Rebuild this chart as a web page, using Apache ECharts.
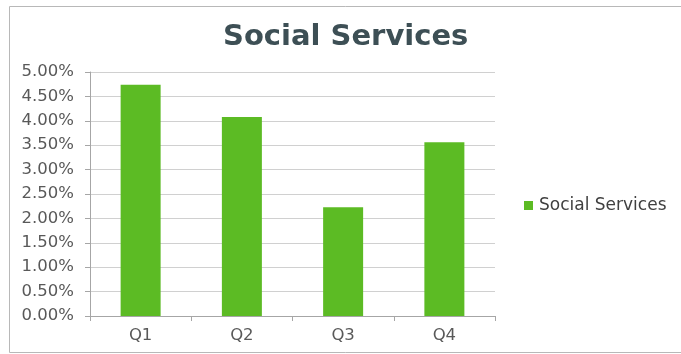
<!DOCTYPE html>
<html>
<head>
<meta charset="utf-8">
<script src="https://cdn.jsdelivr.net/npm/echarts@6/dist/echarts.min.js"></script>
<style>
  html, body { margin: 0; padding: 0; background: #ffffff; }
  #chart { width: 681px; height: 354px; }
</style>
</head>
<body>
<div id="chart"></div>
<script>
// Quarterly share for Social Services (percent)
const categories = ['Q1', 'Q2', 'Q3', 'Q4'];
const seriesName = 'Social Services';
const values = [4.74, 4.08, 2.23, 3.56];
const yTicks = { min: 0, max: 5, step: 0.5 };

const chart = echarts.init(document.getElementById('chart'));
const labelColor = '#595959';
const font = 'DejaVu Sans';

chart.setOption({
  animation: false,
  backgroundColor: '#ffffff',
  graphic: [{
    type: 'rect',
    shape: { x: 9.5, y: 6.5, width: 800, height: 346 },
    style: { fill: 'none', stroke: '#b8b8b8', lineWidth: 1 },
    silent: true
  }],
  title: {
    text: seriesName,
    left: 223,
    top: 23,
    padding: 0,
    textStyle: { fontFamily: font, fontSize: 29, fontWeight: 'bold', color: '#3d4f55' }
  },
  legend: {
    data: [seriesName],
    left: 524,
    top: 197,
    padding: 0,
    itemWidth: 9,
    itemHeight: 9,
    itemGap: 6,
    icon: 'rect',
    textStyle: { fontFamily: font, fontSize: 17, color: '#404040', padding: [0, 0, 0, 1] }
  },
  grid: { left: 90, right: 186, top: 72, bottom: 38, containLabel: false },
  xAxis: {
    type: 'category',
    data: categories,
    axisLine: { lineStyle: { color: '#a6a6a6', width: 1 } },
    axisTick: { show: true, alignWithLabel: false, length: 5, lineStyle: { color: '#a6a6a6' } },
    axisLabel: { fontFamily: font, fontSize: 16.5, color: labelColor, margin: 11 }
  },
  yAxis: {
    type: 'value',
    min: yTicks.min,
    max: yTicks.max,
    interval: yTicks.step,
    axisLine: { show: true, lineStyle: { color: '#a6a6a6', width: 1 } },
    axisTick: { show: true, length: 5, lineStyle: { color: '#a6a6a6' } },
    splitLine: { lineStyle: { color: '#d0d0d0', width: 1 } },
    axisLabel: {
      fontFamily: font, fontSize: 16.5, color: labelColor, margin: 16,
      formatter: v => v.toFixed(2) + '%'
    }
  },
  series: [{
    name: seriesName,
    type: 'bar',
    data: values,
    barWidth: 40,
    itemStyle: { color: '#5cbb24' }
  }]
});
</script>
</body>
</html>
